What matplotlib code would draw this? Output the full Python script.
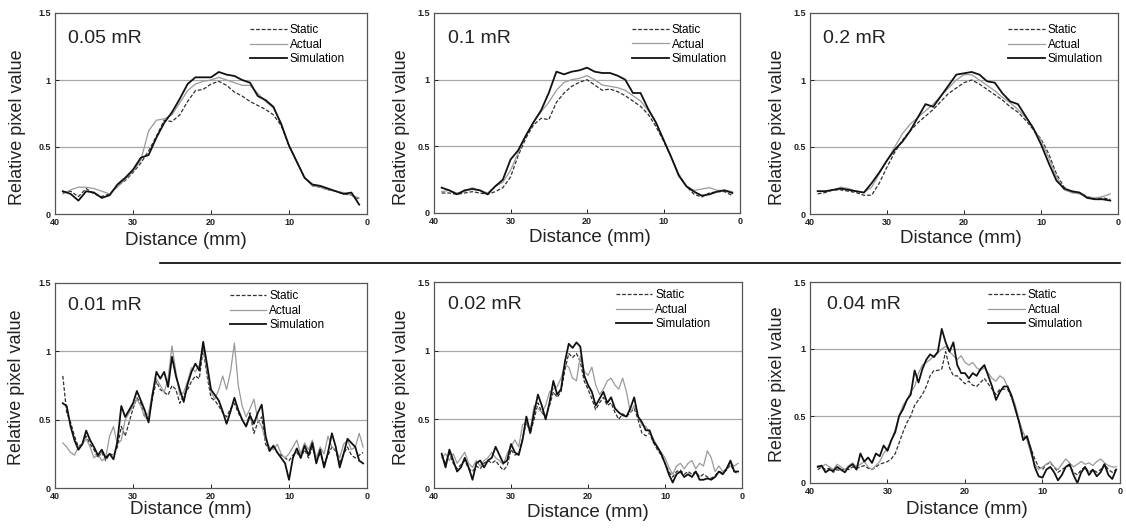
import numpy as np
import matplotlib
matplotlib.use("Agg")
import matplotlib.pyplot as plt

plt.rcParams['font.family'] = ['Liberation Sans', 'DejaVu Sans']

# ---------------- data ----------------
x_top = np.arange(39, 0, -1.0)          # 39 .. 1 mm
x_bot = np.arange(39, 0.4, -0.5)        # 39 .. 0.5 mm

titles = ["0.05 mR", "0.1 mR", "0.2 mR", "0.01 mR", "0.02 mR", "0.04 mR"]
series_names = ["Static", "Actual", "Simulation"]
y_ticks = [0, 0.5, 1, 1.5]
y_tick_labels = ["0", "0.5", "1", "1.5"]
x_ticks = [40, 30, 20, 10, 0]

# 0.05 mR
static_005 = [0.16, 0.17, 0.13, 0.19, 0.15, 0.13, 0.15, 0.21, 0.25, 0.31, 0.38, 0.47, 0.58, 0.70, 0.69, 0.74, 0.84, 0.92, 0.93, 0.97,
              0.99, 0.96, 0.91, 0.88, 0.84, 0.81, 0.78, 0.74, 0.66, 0.51, 0.39, 0.27, 0.21, 0.20, 0.18, 0.17, 0.15, 0.14, 0.11]
actual_005 = [0.15, 0.18, 0.20, 0.20, 0.19, 0.17, 0.15, 0.20, 0.26, 0.32, 0.40, 0.62, 0.70, 0.71, 0.74, 0.83, 0.92, 0.97, 0.99, 1.00,
              1.02, 1.00, 0.98, 0.96, 0.96, 0.90, 0.84, 0.79, 0.68, 0.51, 0.39, 0.27, 0.21, 0.20, 0.18, 0.17, 0.16, 0.14, 0.12]
sim_005 = [0.17, 0.15, 0.10, 0.17, 0.16, 0.12, 0.14, 0.22, 0.27, 0.33, 0.42, 0.44, 0.57, 0.68, 0.76, 0.86, 0.97, 1.02, 1.02, 1.02,
           1.06, 1.04, 1.03, 1.00, 0.98, 0.88, 0.85, 0.80, 0.67, 0.51, 0.39, 0.27, 0.22, 0.21, 0.19, 0.17, 0.15, 0.16, 0.07]

# 0.1 mR
static_01 = [0.15, 0.15, 0.14, 0.15, 0.16, 0.15, 0.14, 0.16, 0.19, 0.27, 0.43, 0.56, 0.66, 0.71, 0.70, 0.83, 0.90, 0.95, 0.98, 1.00,
             0.96, 0.92, 0.93, 0.91, 0.88, 0.84, 0.80, 0.74, 0.65, 0.54, 0.42, 0.29, 0.20, 0.14, 0.12, 0.15, 0.16, 0.16, 0.13]
actual_01 = [0.16, 0.17, 0.15, 0.16, 0.19, 0.17, 0.15, 0.20, 0.23, 0.32, 0.45, 0.58, 0.68, 0.76, 0.83, 0.92, 0.98, 1.00, 1.01, 1.03,
             1.00, 0.96, 0.95, 0.94, 0.92, 0.88, 0.84, 0.77, 0.68, 0.55, 0.42, 0.29, 0.20, 0.17, 0.18, 0.19, 0.17, 0.17, 0.16]
sim_01 = [0.19, 0.17, 0.14, 0.17, 0.18, 0.17, 0.14, 0.20, 0.25, 0.40, 0.47, 0.58, 0.68, 0.77, 0.90, 1.06, 1.04, 1.06, 1.07, 1.09,
          1.06, 1.05, 1.05, 1.03, 1.00, 0.90, 0.90, 0.78, 0.68, 0.55, 0.42, 0.28, 0.20, 0.16, 0.13, 0.14, 0.16, 0.17, 0.15]

# 0.2 mR
static_02 = [0.15, 0.16, 0.18, 0.18, 0.17, 0.16, 0.14, 0.14, 0.23, 0.35, 0.46, 0.55, 0.62, 0.68, 0.73, 0.78, 0.84, 0.90, 0.94, 0.98,
             1.00, 0.97, 0.93, 0.89, 0.85, 0.80, 0.76, 0.70, 0.63, 0.56, 0.45, 0.30, 0.20, 0.16, 0.16, 0.13, 0.11, 0.12, 0.11]
actual_02 = [0.17, 0.17, 0.18, 0.20, 0.19, 0.17, 0.16, 0.20, 0.30, 0.40, 0.50, 0.60, 0.67, 0.72, 0.77, 0.82, 0.88, 0.94, 1.00, 1.04,
             1.04, 1.00, 0.96, 0.92, 0.87, 0.83, 0.78, 0.72, 0.64, 0.55, 0.42, 0.28, 0.18, 0.16, 0.15, 0.13, 0.12, 0.13, 0.15]
sim_02 = [0.17, 0.17, 0.18, 0.19, 0.18, 0.17, 0.16, 0.23, 0.31, 0.40, 0.48, 0.54, 0.62, 0.72, 0.82, 0.80, 0.88, 0.96, 1.04, 1.05,
          1.06, 1.04, 0.99, 0.98, 0.90, 0.84, 0.82, 0.73, 0.64, 0.52, 0.38, 0.25, 0.19, 0.17, 0.16, 0.12, 0.11, 0.11, 0.10]

# 0.01 mR
static_001 = [0.82, 0.55, 0.48, 0.38, 0.30, 0.33, 0.38, 0.32, 0.28, 0.22, 0.26, 0.20, 0.25, 0.24, 0.30, 0.45, 0.38, 0.48, 0.58, 0.66,
              0.62, 0.52, 0.50, 0.66, 0.78, 0.72, 0.70, 0.68, 0.75, 0.72, 0.62, 0.68, 0.72, 0.78, 0.82, 0.80, 1.02, 0.82, 0.66, 0.64,
              0.60, 0.55, 0.52, 0.58, 0.62, 0.55, 0.50, 0.45, 0.55, 0.40, 0.48, 0.52, 0.32, 0.28, 0.30, 0.26, 0.24, 0.22, 0.20, 0.24,
              0.26, 0.22, 0.28, 0.22, 0.30, 0.20, 0.25, 0.18, 0.24, 0.30, 0.27, 0.18, 0.25, 0.30, 0.24, 0.22, 0.24, 0.26]
actual_001 = [0.33, 0.30, 0.26, 0.24, 0.30, 0.32, 0.36, 0.30, 0.22, 0.25, 0.20, 0.22, 0.38, 0.45, 0.32, 0.35, 0.50, 0.55, 0.60, 0.65,
              0.60, 0.52, 0.55, 0.70, 0.80, 0.75, 0.70, 0.80, 1.04, 0.85, 0.68, 0.70, 0.78, 0.88, 0.85, 0.90, 1.05, 0.85, 0.70, 0.65,
              0.72, 0.82, 0.72, 0.85, 1.06, 0.75, 0.60, 0.52, 0.58, 0.65, 0.50, 0.45, 0.35, 0.30, 0.28, 0.32, 0.25, 0.22, 0.25, 0.30,
              0.35, 0.25, 0.33, 0.28, 0.35, 0.22, 0.30, 0.25, 0.38, 0.30, 0.28, 0.22, 0.32, 0.35, 0.28, 0.30, 0.40, 0.30]
sim_001 = [0.62, 0.60, 0.45, 0.35, 0.28, 0.32, 0.42, 0.35, 0.30, 0.24, 0.28, 0.22, 0.25, 0.21, 0.34, 0.60, 0.52, 0.57, 0.62, 0.71,
           0.64, 0.57, 0.48, 0.68, 0.85, 0.80, 0.85, 0.74, 0.96, 0.82, 0.72, 0.63, 0.76, 0.85, 0.91, 0.86, 1.07, 0.90, 0.72, 0.68,
           0.64, 0.56, 0.47, 0.56, 0.66, 0.57, 0.50, 0.45, 0.53, 0.47, 0.55, 0.61, 0.38, 0.27, 0.31, 0.26, 0.22, 0.18, 0.06, 0.22,
           0.29, 0.22, 0.31, 0.24, 0.33, 0.18, 0.28, 0.15, 0.26, 0.40, 0.30, 0.15, 0.25, 0.36, 0.33, 0.30, 0.20, 0.18]

# 0.02 mR
static_002 = [0.24, 0.18, 0.25, 0.18, 0.14, 0.17, 0.20, 0.14, 0.12, 0.16, 0.14, 0.18, 0.20, 0.18, 0.20, 0.16, 0.13, 0.16, 0.28, 0.24,
              0.25, 0.36, 0.48, 0.40, 0.50, 0.62, 0.55, 0.52, 0.60, 0.70, 0.66, 0.70, 0.86, 0.98, 0.95, 0.98, 0.92, 0.78, 0.72, 0.65,
              0.57, 0.62, 0.66, 0.60, 0.62, 0.55, 0.50, 0.54, 0.52, 0.55, 0.58, 0.50, 0.40, 0.38, 0.40, 0.33, 0.28, 0.24, 0.18, 0.12,
              0.08, 0.12, 0.13, 0.10, 0.12, 0.10, 0.12, 0.08, 0.10, 0.08, 0.07, 0.09, 0.12, 0.11, 0.13, 0.17, 0.12, 0.10]
actual_002 = [0.22, 0.25, 0.20, 0.25, 0.18, 0.22, 0.26, 0.18, 0.15, 0.20, 0.16, 0.20, 0.22, 0.26, 0.22, 0.20, 0.17, 0.25, 0.30, 0.35,
              0.30, 0.46, 0.48, 0.42, 0.60, 0.58, 0.55, 0.60, 0.70, 0.72, 0.74, 0.80, 0.90, 0.88, 0.80, 0.78, 0.96, 0.85, 0.82, 0.88,
              0.75, 0.68, 0.72, 0.78, 0.80, 0.75, 0.72, 0.80, 0.70, 0.55, 0.60, 0.52, 0.46, 0.45, 0.40, 0.36, 0.30, 0.26, 0.22, 0.15,
              0.10, 0.16, 0.18, 0.14, 0.18, 0.20, 0.14, 0.18, 0.16, 0.27, 0.22, 0.12, 0.16, 0.12, 0.14, 0.18, 0.16, 0.18]
sim_002 = [0.25, 0.15, 0.28, 0.20, 0.12, 0.15, 0.22, 0.15, 0.06, 0.18, 0.20, 0.15, 0.20, 0.22, 0.30, 0.24, 0.18, 0.20, 0.32, 0.26,
           0.24, 0.35, 0.52, 0.40, 0.55, 0.68, 0.60, 0.50, 0.62, 0.78, 0.68, 0.72, 0.92, 1.05, 1.02, 1.06, 1.03, 0.82, 0.75, 0.70,
           0.60, 0.65, 0.70, 0.62, 0.66, 0.58, 0.55, 0.53, 0.52, 0.58, 0.66, 0.52, 0.48, 0.42, 0.42, 0.34, 0.30, 0.25, 0.18, 0.10,
           0.04, 0.10, 0.12, 0.08, 0.10, 0.08, 0.12, 0.06, 0.06, 0.07, 0.06, 0.08, 0.12, 0.10, 0.14, 0.20, 0.12, 0.12]

# 0.04 mR
static_004 = [0.10, 0.12, 0.10, 0.11, 0.08, 0.10, 0.09, 0.11, 0.10, 0.12, 0.11, 0.12, 0.13, 0.11, 0.10, 0.12, 0.14, 0.15, 0.16, 0.18,
              0.22, 0.30, 0.38, 0.45, 0.50, 0.58, 0.62, 0.66, 0.72, 0.80, 0.84, 0.84, 0.85, 0.98, 0.86, 0.80, 0.80, 0.77, 0.74, 0.76,
              0.73, 0.72, 0.75, 0.78, 0.74, 0.70, 0.66, 0.70, 0.70, 0.70, 0.64, 0.56, 0.45, 0.35, 0.33, 0.26, 0.18, 0.12, 0.10, 0.14,
              0.15, 0.12, 0.08, 0.10, 0.12, 0.13, 0.08, 0.06, 0.10, 0.12, 0.08, 0.10, 0.08, 0.10, 0.14, 0.10, 0.08, 0.10]
actual_004 = [0.13, 0.12, 0.14, 0.12, 0.10, 0.14, 0.12, 0.10, 0.13, 0.15, 0.12, 0.14, 0.16, 0.12, 0.10, 0.13, 0.16, 0.22, 0.26, 0.32,
              0.40, 0.50, 0.58, 0.62, 0.68, 0.72, 0.82, 0.88, 0.90, 0.92, 0.95, 0.97, 1.00, 1.02, 0.98, 0.95, 0.92, 0.95, 0.90, 0.88,
              0.90, 0.86, 0.84, 0.86, 0.82, 0.78, 0.76, 0.80, 0.78, 0.72, 0.66, 0.58, 0.46, 0.38, 0.32, 0.22, 0.14, 0.10, 0.12, 0.14,
              0.16, 0.12, 0.10, 0.14, 0.18, 0.15, 0.12, 0.14, 0.16, 0.14, 0.15, 0.13, 0.16, 0.18, 0.15, 0.13, 0.12, 0.12]
sim_004 = [0.12, 0.13, 0.08, 0.10, 0.09, 0.12, 0.10, 0.08, 0.12, 0.14, 0.10, 0.22, 0.16, 0.19, 0.15, 0.22, 0.20, 0.28, 0.24, 0.32,
           0.38, 0.50, 0.55, 0.62, 0.66, 0.84, 0.75, 0.85, 0.92, 0.96, 0.94, 0.98, 1.15, 1.05, 0.98, 1.05, 0.88, 0.82, 0.82, 0.78,
           0.82, 0.80, 0.85, 0.88, 0.80, 0.72, 0.62, 0.68, 0.72, 0.72, 0.65, 0.55, 0.45, 0.32, 0.35, 0.25, 0.12, 0.05, 0.04, 0.10,
           0.12, 0.08, 0.02, 0.06, 0.12, 0.14, 0.06, 0.00, 0.08, 0.12, 0.06, 0.10, 0.05, 0.08, 0.14, 0.06, 0.03, 0.10]

panels = [
    (x_top, static_005, actual_005, sim_005),
    (x_top, static_01, actual_01, sim_01),
    (x_top, static_02, actual_02, sim_02),
    (x_bot, static_001, actual_001, sim_001),
    (x_bot, static_002, actual_002, sim_002),
    (x_bot, static_004, actual_004, sim_004),
]

# ---------------- layout (pixel boxes: left, right, top, bottom) ----------------
W, H = 1126, 531
boxes = [(55, 367, 13, 214), (434, 740, 13, 213), (810, 1118, 13, 214),
         (55, 367, 283, 488), (434, 742, 282, 488), (810, 1120, 282, 483)]
legend_pos = [(0.625, 0.945), (0.647, 0.945), (0.643, 0.945),
              (0.56, 0.965), (0.59, 0.965), (0.574, 0.965)]
label_pos = [(0.042, 0.873), (0.046, 0.873), (0.042, 0.873),
             (0.042, 0.89), (0.046, 0.89), (0.055, 0.89)]
ylabel_pos = [(-0.119, 0.43), (-0.105, 0.43), (-0.104, 0.43),
              (-0.122, 0.49), (-0.105, 0.49), (-0.104, 0.49)]
xlabel_pos = [(0.42, -0.13), (0.51, -0.12), (0.49, -0.12),
              (0.435, -0.107), (0.50, -0.117), (0.506, -0.134)]

fig = plt.figure(figsize=(W / 100, H / 100), dpi=100)

for i, (xx, st, ac, si) in enumerate(panels):
    l, r, t, b = boxes[i]
    ax = fig.add_axes([l / W, 1 - b / H, (r - l) / W, (b - t) / H])
    ax.plot(xx, st, linestyle=(0, (3, 1.5)), color='#303030', lw=0.9, label=series_names[0])
    ax.plot(xx, ac, color='#9a9a9a', lw=0.9, label=series_names[1])
    ax.plot(xx, si, color='#111111', lw=1.3, label=series_names[2])
    ax.set_xlim(40, 0)
    ax.set_ylim(0, 1.5)
    ax.set_xticks(x_ticks)
    ax.set_xticklabels([str(v) for v in x_ticks], fontsize=6.5, fontweight='bold')
    ax.set_yticks(y_ticks)
    ax.set_yticklabels(y_tick_labels, fontsize=6.5, fontweight='bold')
    ax.tick_params(direction='in', length=3, width=0.7, pad=3, colors='#222222')
    for yv in (0.5, 1.0):
        ax.axhline(yv, color='#a8a8a8', lw=0.9, zorder=0)
    for s in ax.spines.values():
        s.set_color('#555555')
        s.set_linewidth(0.9)
    ax.set_ylabel("Relative pixel value", fontsize=13, color='#222222')
    ax.yaxis.set_label_coords(*ylabel_pos[i])
    ax.yaxis.label.set_va('center')
    ax.set_xlabel("Distance (mm)", fontsize=13.5, color='#222222')
    ax.xaxis.set_label_coords(*xlabel_pos[i])
    ax.xaxis.label.set_va('center')
    ax.text(label_pos[i][0], label_pos[i][1], titles[i], transform=ax.transAxes,
            fontsize=14, va='center', ha='left', color='#222222')
    ax.legend(loc='upper left', bbox_to_anchor=legend_pos[i], frameon=False,
              fontsize=8.5, handlelength=3.1, handletextpad=0.25, labelspacing=0.22,
              borderpad=0, borderaxespad=0)

# separator line between rows
fig.add_artist(plt.Line2D([160 / W, 1120 / W], [1 - 263 / H, 1 - 263 / H],
                          color='black', lw=1.2, transform=fig.transFigure))

fig.savefig("out.png", dpi=100, facecolor='white')
